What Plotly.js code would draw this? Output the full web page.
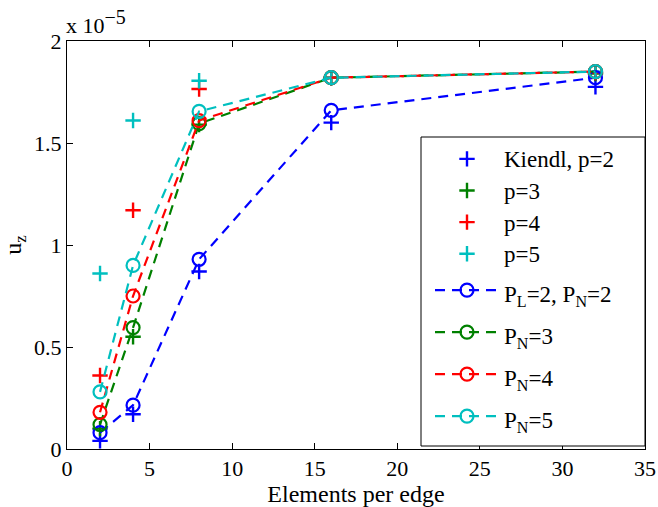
<!DOCTYPE html>
<html>
<head>
<meta charset="utf-8">
<script src="https://cdn.plot.ly/plotly-3.0.1.min.js"></script>
<style>html,body{margin:0;padding:0;background:#fff}#chart{width:658px;height:507px}</style>
</head>
<body>
<div id="chart"></div>
<script>
// Values in units of 1e-5
const elements = [2, 4, 8, 16, 32];
const kiendlP2 = [0.04, 0.17, 0.87, 1.60, 1.775];
const kiendlP3 = [0.10, 0.55, 1.59, 1.82, 1.84];
const kiendlP4 = [0.36, 1.17, 1.765, 1.82, 1.845];
const kiendlP5 = [0.86, 1.61, 1.805, 1.82, 1.85];
const pL2pN2 = [0.08, 0.215, 0.93, 1.66, 1.82];
const pN3 = [0.12, 0.595, 1.595, 1.82, 1.85];
const pN4 = [0.18, 0.75, 1.61, 1.82, 1.85];
const pN5 = [0.28, 0.90, 1.655, 1.82, 1.85];
const yTickVals = [0, 0.5, 1, 1.5, 2];
const yTickText = ['0', '0.5', '1', '1.5', '2'];
const xTickVals = [0, 5, 10, 15, 20, 25, 30, 35];

const crossNames = ['Kiendl, p=2', 'p=3', 'p=4', 'p=5'];
const lineNames = ['P<sub>L</sub>=2, P<sub>N</sub>=2', 'P<sub>N</sub>=3', 'P<sub>N</sub>=4', 'P<sub>N</sub>=5'];
const colors = ['#0000ff', '#008000', '#ff0000', '#00bfbf'];
const crossData = [kiendlP2, kiendlP3, kiendlP4, kiendlP5];
const lineData = [pL2pN2, pN3, pN4, pN5];

const FONT = 'Times New Roman';
const traces = [];
crossData.forEach((ys, i) => traces.push({
  x: elements, y: ys, name: '<span style="font-size:23px">' + crossNames[i] + '</span>',
  type: 'scatter', mode: 'markers', legend: 'legend',
  marker: {symbol: 'cross-thin-open', size: 11, color: colors[i], line: {color: colors[i], width: 2.4}}
}));
lineData.forEach((ys, i) => traces.push({
  x: elements, y: ys, name: '<span style="font-size:23px">' + lineNames[i] + '</span>',
  type: 'scatter', mode: 'lines+markers', legend: 'legend2',
  line: {color: colors[i], width: 2.2, dash: '10px,7px'},
  marker: {symbol: 'circle-open', size: 13, color: colors[i], line: {color: colors[i], width: 2.2}}
}));

const legX = (430 - 67) / 578;
const layout = {
  width: 658, height: 507,
  margin: {l: 67, r: 13, t: 41, b: 58},
  paper_bgcolor: '#fff', plot_bgcolor: '#fff',
  font: {family: FONT, size: 22, color: '#000'},
  showlegend: true,
  legend: {
    x: legX, y: 0.762, xanchor: 'left', yanchor: 'top',
    bgcolor: 'rgba(0,0,0,0)', borderwidth: 0,
    font: {family: FONT, size: 22, color: '#000'},
    itemwidth: 64, tracegroupgap: 0
  },
  legend2: {
    x: legX, y: 0.762 - 126 / 408, xanchor: 'left', yanchor: 'top',
    bgcolor: 'rgba(0,0,0,0)', borderwidth: 0,
    font: {family: FONT, size: 30, color: '#000'},
    itemwidth: 64, tracegroupgap: 0
  },
  shapes: [{
    type: 'rect', xref: 'paper', yref: 'paper', layer: 'above',
    x0: (421 - 67) / 578, x1: 1, y0: 3 / 408, y1: (449 - 137) / 408,
    line: {color: '#000', width: 1}, fillcolor: '#fff'
  }],
  xaxis: {
    range: [0, 35], tickvals: xTickVals, ticks: 'inside', ticklen: 6, tickcolor: '#000',
    showline: true, linecolor: '#000', linewidth: 1, mirror: 'ticks',
    showgrid: false, zeroline: false, ticklabeloverflow: 'allow',
    title: {text: 'Elements per edge', font: {family: FONT, size: 24}, standoff: 3},
    tickfont: {family: FONT, size: 22}
  },
  yaxis: {
    range: [0, 2], tickvals: yTickVals, ticktext: yTickText, ticks: 'inside', ticklen: 6, tickcolor: '#000',
    showline: true, linecolor: '#000', linewidth: 1, mirror: 'ticks',
    showgrid: false, zeroline: false,
    title: {text: 'u<sub>z</sub>', font: {family: FONT, size: 24}, standoff: 8},
    tickfont: {family: FONT, size: 22}
  },
  annotations: [{
    xref: 'paper', yref: 'paper', x: 0, y: 1, xanchor: 'left', yanchor: 'bottom',
    text: 'x 10<sup><span style="font-size:20px">−5</span></sup>', showarrow: false, yshift: 1, xshift: -3,
    font: {family: FONT, size: 22, color: '#000'}
  }]
};

Plotly.newPlot('chart', traces, layout, {displayModeBar: false, staticPlot: true});
</script>
</body>
</html>
